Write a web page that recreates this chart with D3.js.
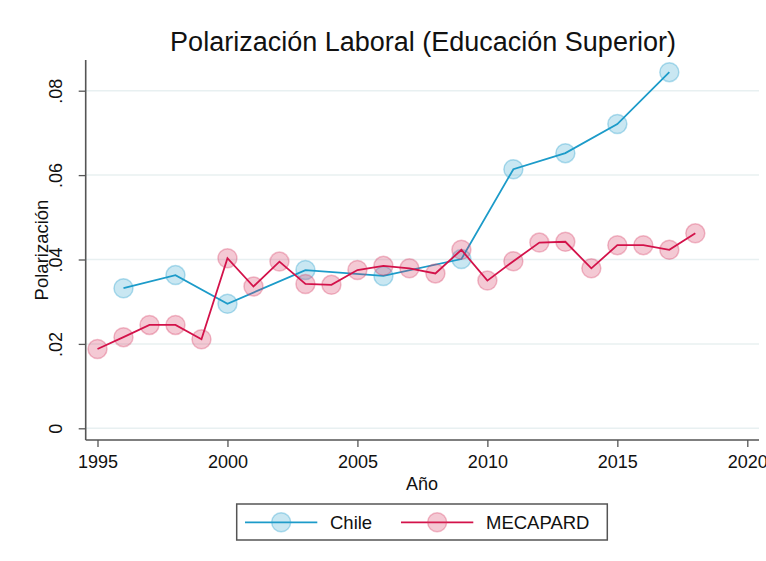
<!DOCTYPE html>
<html>
<head>
<meta charset="utf-8">
<script src="https://cdn.jsdelivr.net/npm/d3@7"></script>
<style>
  html, body { margin: 0; padding: 0; background: #fff; }
  text { font-family: "Liberation Sans", Arial, sans-serif; fill: #111; }
</style>
</head>
<body>
<svg id="chart" width="766" height="561"></svg>
<script>
const chileYears = [1996, 1998, 2000, 2003, 2006, 2009, 2011, 2013, 2015, 2017];
const chileValues = [0.0332, 0.0363, 0.0295, 0.0375, 0.0361, 0.0401, 0.0614, 0.0652, 0.0721, 0.0844];
const mecaYears = [1995, 1996, 1997, 1998, 1999, 2000, 2001, 2002, 2003, 2004, 2005, 2006,
                   2007, 2008, 2009, 2010, 2011, 2012, 2013, 2014, 2015, 2016, 2017, 2018];
const mecaValues = [0.0188, 0.0216, 0.0245, 0.0245, 0.0211, 0.0403, 0.0336, 0.0395, 0.0342, 0.0340, 0.0375, 0.0385,
                    0.0379, 0.0367, 0.0423, 0.0350, 0.0396, 0.0440, 0.0442, 0.0379, 0.0434, 0.0434, 0.0423, 0.0462];
const xTicks = [1995, 2000, 2005, 2010, 2015, 2020];
const yTicks = [0, 0.02, 0.04, 0.06, 0.08];
const yTickLabels = ["0", ".02", ".04", ".06", ".08"];
const seriesNames = ["Chile", "MECAPARD"];
const titleText = "Polarización Laboral (Educación Superior)";

const svg = d3.select("#chart");
const x = d3.scaleLinear().domain([1995, 2020]).range([97.5, 747.3]);
const y = d3.scaleLinear().domain([0, 0.08]).range([428.3, 90.7]);

const plotLeft = 85.7, plotRight = 759, axisY = 440, plotTop = 60;
const axisColor = "#555";

// gridlines
svg.append("g").selectAll("line").data(yTicks).join("line")
  .attr("x1", plotLeft).attr("x2", plotRight)
  .attr("y1", d => y(d)).attr("y2", d => y(d))
  .attr("stroke", "#e8f0f1").attr("stroke-width", 1.5);

// x axis
const xAxis = svg.append("g").attr("transform", `translate(0,${axisY})`)
  .call(d3.axisBottom(x).tickValues(xTicks).tickFormat(d3.format("d")).tickSize(7).tickPadding(8));
xAxis.select(".domain").remove();
xAxis.selectAll(".tick line").attr("stroke", axisColor).attr("stroke-width", 1.3);
xAxis.selectAll(".tick text").attr("font-size", 18).attr("font-family", "Liberation Sans, Arial, sans-serif").attr("fill", "#111");
svg.append("line").attr("x1", plotLeft).attr("x2", plotRight).attr("y1", axisY).attr("y2", axisY)
  .attr("stroke", axisColor).attr("stroke-width", 1.6);

// y axis
const yAxis = svg.append("g").attr("transform", `translate(${plotLeft},0)`)
  .call(d3.axisLeft(y).tickValues(yTicks).tickFormat((d, i) => yTickLabels[i]).tickSize(7));
yAxis.select(".domain").remove();
yAxis.selectAll(".tick line").attr("stroke", axisColor).attr("stroke-width", 1.3);
yAxis.selectAll(".tick text")
  .attr("font-size", 18).attr("font-family", "Liberation Sans, Arial, sans-serif").attr("fill", "#111")
  .attr("text-anchor", "middle").attr("x", null).attr("dy", null)
  .attr("transform", "translate(-23.5,0) rotate(-90)");
svg.append("line").attr("x1", plotLeft).attr("x2", plotLeft).attr("y1", plotTop).attr("y2", axisY)
  .attr("stroke", axisColor).attr("stroke-width", 1.6);

// titles
svg.append("text").attr("x", 423).attr("y", 51).attr("text-anchor", "middle")
  .attr("font-size", 27).text(titleText);
svg.append("text").attr("x", 422).attr("y", 490).attr("text-anchor", "middle")
  .attr("font-size", 18).text("Año");
svg.append("text").attr("transform", "translate(48,250) rotate(-90)").attr("text-anchor", "middle")
  .attr("font-size", 18.5).text("Polarización");

const styles = [
  { line: "#1c9bc9", fill: "rgba(40,160,205,0.25)", stroke: "rgba(40,160,205,0.35)" },
  { line: "#d3124a", fill: "rgba(215,60,100,0.28)", stroke: "rgba(215,60,100,0.33)" }
];
const series = [
  { name: seriesNames[0], data: chileYears.map((yr, i) => [yr, chileValues[i]]), s: styles[0] },
  { name: seriesNames[1], data: mecaYears.map((yr, i) => [yr, mecaValues[i]]), s: styles[1] }
];
const line = d3.line().x(d => x(d[0])).y(d => y(d[1]));
const r = 9.5;
series.forEach(se => {
  svg.append("g").selectAll("circle").data(se.data).join("circle")
    .attr("cx", d => x(d[0])).attr("cy", d => y(d[1])).attr("r", r)
    .attr("fill", se.s.fill).attr("stroke", se.s.stroke).attr("stroke-width", 1.5);
  svg.append("path").datum(se.data).attr("d", line)
    .attr("fill", "none").attr("stroke", se.s.line).attr("stroke-width", 1.8);
});

// legend
const lg = svg.append("g");
lg.append("rect").attr("x", 236.7).attr("y", 504).attr("width", 370.6).attr("height", 36)
  .attr("fill", "#fff").attr("stroke", axisColor).attr("stroke-width", 1.5);
const legendItems = [
  { x0: 245, x1: 317.3, tx: 330, s: styles[0], name: seriesNames[0] },
  { x0: 401, x1: 473.3, tx: 486, s: styles[1], name: seriesNames[1] }
];
legendItems.forEach(it => {
  lg.append("line").attr("x1", it.x0).attr("x2", it.x1).attr("y1", 522.3).attr("y2", 522.3)
    .attr("stroke", it.s.line).attr("stroke-width", 1.8);
  lg.append("circle").attr("cx", (it.x0 + it.x1) / 2).attr("cy", 522.3).attr("r", r)
    .attr("fill", it.s.fill).attr("stroke", it.s.stroke).attr("stroke-width", 1.5);
  lg.append("text").attr("x", it.tx).attr("y", 529).attr("font-size", 18.5).text(it.name);
});
</script>
</body>
</html>
